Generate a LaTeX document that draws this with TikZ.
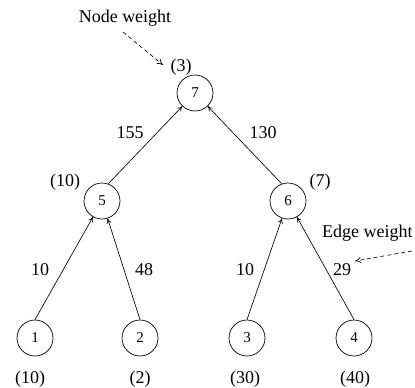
\documentclass[tikz,border=0pt]{standalone}
\usepackage{fontspec}
\setmainfont{Liberation Serif}
\usetikzlibrary{arrows.meta}
\begin{document}
\begin{tikzpicture}[x=1pt,y=-1pt,
  vert/.style={circle,draw,line width=0.7pt,minimum size=36pt,inner sep=0pt,font=\fontsize{15}{17}\selectfont},
  lbl/.style={inner sep=0pt,font=\fontsize{18}{21}\selectfont},
  conn/.style={line width=0.65pt,-{To[length=5pt,width=5pt]}},
  dasharrow/.style={line width=0.65pt,dash pattern=on 4pt off 3pt,-{To[length=6pt,width=6pt]}}]
\useasboundingbox (0,0) rectangle (415,388);
\node[vert] (n7) at (195,93) {7};
\node[vert] (n5) at (102,201) {5};
\node[vert] (n6) at (288,201) {6};
\node[vert] (n1) at (35,338) {1};
\node[vert] (n2) at (140,338) {2};
\node[vert] (n3) at (247,338) {3};
\node[vert] (n4) at (354,338) {4};
\draw[conn] (n5.70) -- (n7);
\draw[conn] (n6.110) -- (n7);
\draw[conn] (n1.north) -- (n5);
\draw[conn] (n2.north) -- (n5);
\draw[conn] (n3.north) -- (n6);
\draw[conn] (n4.north) -- (n6);
\node[lbl] (w7) at (181,67) {(3)};
\node[lbl] (w5) at (65,182) {(10)};
\node[lbl] (w6) at (320,182) {(7)};
\node[lbl] (w1) at (30,379) {(10)};
\node[lbl] (w2) at (140,379) {(2)};
\node[lbl] (w3) at (245,379) {(30)};
\node[lbl] (w4) at (355,379) {(40)};
\node[lbl] (e75) at (130,133) {155};
\node[lbl] (e76) at (263,133) {130};
\node[lbl] (e51) at (40,270) {10};
\node[lbl] (e52) at (144,270) {48};
\node[lbl] (e63) at (245,270) {10};
\node[lbl] (e64) at (342,270) {29};
\node[lbl] (nw) at (125,18) {Node weight};
\node[lbl,anchor=west] (ew) at (322,233) {Edge weight};
\coordinate (nwa) at (123,32);
\coordinate (nwb) at (163,65);
\coordinate (ewa) at (412,251);
\coordinate (ewb) at (355,261);
\draw[dasharrow] (nwa) -- (nwb);
\draw[dasharrow] (ewa) -- (ewb);
\end{tikzpicture}
\end{document}
